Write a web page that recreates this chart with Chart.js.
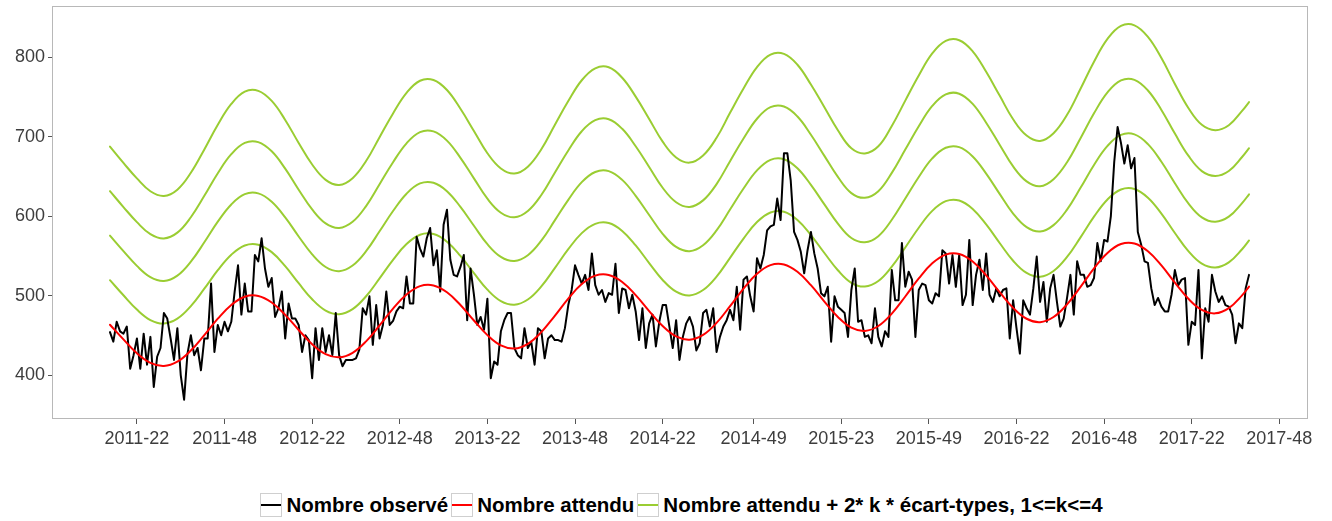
<!DOCTYPE html>
<html lang="fr">
<head>
<meta charset="utf-8">
<title>Nombre observé et attendu</title>
<script src="https://cdn.jsdelivr.net/npm/chart.js@4.4.0/dist/chart.umd.min.js"></script>
<style>
    html, body { margin: 0; padding: 0; background: #fff; }
    #cadre { position: relative; width: 1332px; height: 521px; overflow: hidden; }
    #graphique { position: absolute; left: 0; top: 0; }
    #legende {
        position: absolute; left: 0; top: 493px; width: 1366px;
        display: flex; justify-content: center; align-items: center;
        font: bold 20.5px "Liberation Sans", Arial, sans-serif; color: #000;
        line-height: 24px; white-space: nowrap;
    }
    .item { display: flex; align-items: center; margin-right: 3px; }
    .cle { position: relative; width: 22px; height: 24px; box-sizing: border-box; border: 1px solid #cfcfcf; background: #fff; }
    .cle span { position: absolute; left: 0; right: 0; top: 10px; height: 2px; }
    .item .txt { margin-left: 4px; }
</style>
</head>
<body>
<div id="cadre">
    <canvas id="graphique" width="1332" height="470"></canvas>
    <div id="legende"></div>
</div>
<script>
// semaine de départ de la série et nombre de semaines par an (ISO)
const debut = '2011-14'
const semainesParAn = {2011: 52, 2012: 52, 2013: 52, 2014: 52, 2015: 53, 2016: 52, 2017: 52}

const etiquettesX = ['2011-22', '2011-48', '2012-22', '2012-48', '2013-22', '2013-48', '2014-22',
    '2014-49', '2015-23', '2015-49', '2016-22', '2016-48', '2017-22', '2017-48']
const ticksY = [400, 500, 600, 700, 800]

// nombre observé, une valeur par semaine
const observe = [
    454, 442, 467, 455, 452, 461, 408, 425, 446, 408, 452, 413, 448, 385, 423, 434, 478, 471, 446, 419,
    459, 400, 369, 427, 450, 425, 434, 406, 446, 446, 515, 429, 463, 450, 467, 455, 467, 505, 538, 476,
    515, 480, 480, 551, 543, 572, 534, 511, 522, 473, 484, 505, 446, 490, 471, 471, 463, 429, 450, 444,
    396, 459, 419, 459, 429, 450, 425, 478, 425, 411, 419, 419, 419, 421, 432, 484, 476, 499, 438, 488,
    446, 463, 505, 463, 468, 480, 486, 484, 524, 490, 490, 574, 559, 549, 572, 585, 538, 557, 505, 589,
    608, 545, 526, 524, 536, 551, 469, 534, 501, 463, 473, 457, 496, 396, 417, 413, 455, 469, 478, 478,
    434, 425, 421, 459, 434, 442, 413, 459, 455, 421, 446, 450, 444, 444, 442, 459, 488, 507, 538, 526,
    515, 526, 507, 553, 513, 501, 507, 492, 503, 501, 540, 478, 509, 507, 484, 501, 480, 444, 484, 434,
    465, 476, 436, 467, 488, 488, 461, 434, 469, 419, 448, 465, 473, 461, 431, 440, 478, 482, 461, 484,
    429, 448, 461, 469, 482, 469, 511, 457, 520, 524, 499, 480, 547, 534, 551, 582, 587, 589, 622, 595,
    679, 679, 645, 580, 570, 555, 528, 557, 580, 553, 534, 503, 499, 511, 442, 499, 486, 482, 478, 448,
    507, 534, 467, 469, 448, 450, 440, 484, 448, 436, 455, 448, 532, 494, 494, 566, 511, 530, 520, 448,
    507, 515, 513, 494, 490, 503, 499, 557, 553, 515, 551, 511, 551, 488, 501, 570, 488, 526, 545, 507,
    553, 501, 492, 509, 499, 507, 509, 446, 494, 459, 427, 494, 484, 476, 509, 549, 492, 517, 467, 509,
    526, 492, 461, 471, 497, 526, 476, 543, 526, 526, 511, 513, 522, 566, 543, 570, 568, 600, 668, 712,
    692, 666, 689, 660, 673, 580, 564, 543, 541, 509, 488, 497, 486, 480, 480, 501, 532, 513, 520, 522,
    438, 467, 463, 532, 421, 484, 467, 526, 505, 492, 499, 488, 486, 476, 440, 465, 459, 509, 526
]

// nombre attendu et 2 écart-types, relevés toutes les 4 semaines
const pasAttendu = 4
const attendu = [
    463.3, 444.8, 427.3, 415.2, 411.3, 416.8, 430.8, 450.2, 470.9, 488.2,
    498.5, 499.5, 491.2, 475.7, 456.7, 438.8, 426.3, 422.3, 428.0, 442.4,
    462.4, 483.5, 501.3, 511.8, 512.7, 504.1, 488.1, 468.6, 450.2, 437.4,
    433.4, 439.3, 454.0, 474.5, 496.2, 514.4, 525.0, 525.9, 517.1, 500.6,
    480.5, 461.6, 448.5, 444.4, 450.5, 465.6, 486.6, 508.8, 527.4, 538.3,
    539.1, 529.9, 513.0, 492.4, 473.1, 459.6, 455.5, 461.7, 477.3, 498.8,
    521.5, 540.5, 551.5, 552.3, 542.8, 525.4, 504.3, 484.5, 470.8, 466.5,
    473.0, 488.9, 510.9, 534.2, 553.6, 564.8, 565.5, 555.7, 537.9, 516.2,
    495.9, 481.9, 477.6, 484.2, 500.6, 511.3
]
const deuxEcarts = [
    56.0, 55.5, 55.0, 54.0, 53.5, 54.1, 55.9, 58.4, 61.0, 63.2,
    64.5, 64.5, 63.4, 61.3, 58.8, 56.5, 54.8, 54.2, 54.9, 56.7,
    59.2, 61.4, 63.4, 64.6, 64.6, 63.6, 61.7, 59.6, 57.2, 55.6,
    55.0, 55.7, 57.5, 60.0, 62.1, 64.1, 65.2, 65.3, 64.2, 62.4,
    60.4, 58.0, 56.3, 55.7, 56.4, 58.2, 60.8, 62.9, 65.0, 66.2,
    66.2, 65.1, 63.1, 61.1, 58.7, 56.4, 55.8, 56.5, 59.0, 61.6,
    63.8, 66.0, 67.2, 67.2, 66.1, 64.0, 61.8, 59.3, 57.6, 57.0,
    57.8, 59.6, 62.3, 65.0, 67.3, 68.6, 68.6, 67.4, 65.2, 62.5,
    60.0, 58.2, 57.6, 57.5, 58.0, 58.0
]

const couleurs = {observe: '#000000', attendu: '#ff0000', seuil: '#9acd32'}
const libelles = ['Nombre observé', 'Nombre attendu', 'Nombre attendu + 2* k * écart-types, 1<=k<=4']

function indexSemaine(code){
    let [an, sem] = code.split('-').map(Number)
    let [an0, sem0] = debut.split('-').map(Number)
    let n = sem - sem0
    for (let a = an0; a < an; a++)
        n += semainesParAn[a]
    return n
}

const dernier = observe.length - 1
const xAttendu = i => Math.min(i * pasAttendu, dernier)
const ticksX = etiquettesX.map(indexSemaine)

let datasets = []
for (let k = 1; k <= 4; k++) {
    datasets.push({
        label: libelles[2],
        data: attendu.map((v, i) => ({x: xAttendu(i), y: v + k * deuxEcarts[i]})),
        borderColor: couleurs.seuil,
        borderWidth: 2,
        tension: 0.4,
        order: 2
    })
}
datasets.push({
    label: libelles[0],
    data: observe.map((v, i) => ({x: i, y: v})),
    borderColor: couleurs.observe,
    borderWidth: 2,
    tension: 0,
    order: 1
})
datasets.push({
    label: libelles[1],
    data: attendu.map((v, i) => ({x: xAttendu(i), y: v})),
    borderColor: couleurs.attendu,
    borderWidth: 2,
    tension: 0.4,
    order: 0
})

const cadrePanneau = {
    id: 'cadrePanneau',
    beforeDatasetsDraw(chart){
        const {ctx, chartArea: a} = chart
        ctx.save()
        ctx.strokeStyle = '#b8b8b8'
        ctx.lineWidth = 1
        ctx.strokeRect(a.left + 0.5, a.top + 0.5, a.width - 1, a.height - 1)
        ctx.restore()
    }
}

Chart.defaults.font.family = '"Liberation Sans", Arial, sans-serif'
Chart.defaults.font.size = 18
Chart.defaults.color = '#3d3d3d'

const config = {
    type: 'line',
    data: {datasets: datasets},
    options: {
        responsive: false,
        devicePixelRatio: 1,
        animation: false,
        elements: {
            point: {radius: 0, hoverRadius: 0},
            line: {borderJoinStyle: 'round', borderCapStyle: 'round'}
        },
        layout: {padding: {top: 6, right: 24, left: 0, bottom: 0}},
        plugins: {legend: {display: false}, tooltip: {enabled: false}},
        scales: {
            x: {
                type: 'linear',
                min: -17.2,
                max: 355.5,
                afterBuildTicks: s => { s.ticks = ticksX.map(v => ({value: v})) },
                afterFit: s => { s.height = 51; s.paddingLeft = 0; s.paddingRight = 0 },
                ticks: {
                    callback: (v, i) => etiquettesX[i],
                    autoSkip: false, maxRotation: 0, padding: 4
                },
                grid: {drawOnChartArea: false, drawTicks: true, tickLength: 5, color: '#555'},
                border: {display: false}
            },
            y: {
                type: 'linear',
                min: 344.7,
                max: 864.2,
                afterBuildTicks: s => { s.ticks = ticksY.map(v => ({value: v})) },
                afterFit: s => { s.width = 52; s.paddingTop = 0; s.paddingBottom = 0 },
                ticks: {padding: 3},
                grid: {drawOnChartArea: false, drawTicks: true, tickLength: 4, color: '#555'},
                border: {display: false}
            }
        }
    },
    plugins: [cadrePanneau]
}

new Chart(document.getElementById('graphique').getContext('2d'), config)

// légende en bas
const legende = document.getElementById('legende')
const cles = [couleurs.observe, couleurs.attendu, couleurs.seuil]
for (let i = 0; i < libelles.length; i++) {
    let item = document.createElement('div')
    item.className = 'item'
    let cle = document.createElement('div')
    cle.className = 'cle'
    let trait = document.createElement('span')
    trait.style.background = cles[i]
    cle.appendChild(trait)
    let txt = document.createElement('span')
    txt.className = 'txt'
    txt.textContent = libelles[i]
    item.appendChild(cle)
    item.appendChild(txt)
    legende.appendChild(item)
}
</script>
</body>
</html>
